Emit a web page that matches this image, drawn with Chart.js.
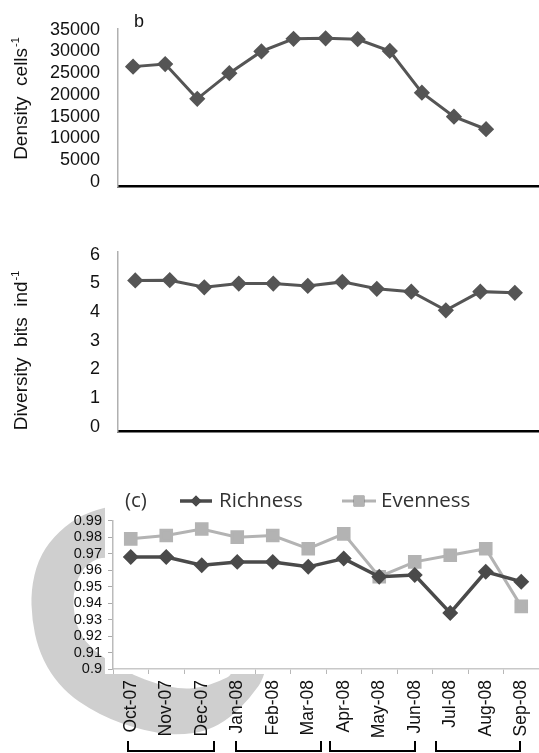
<!DOCTYPE html>
<html>
<head>
<meta charset="utf-8">
<script src="https://cdn.jsdelivr.net/npm/chart.js@4.4.1/dist/chart.umd.min.js"></script>
<style>
    html, body { margin: 0; padding: 0; background: #fff; overflow: hidden; }
    canvas { position: absolute; left: 0; }
    #densityChart { top: 0; }
    #diversityChart { top: 215px; }
    #indexChart { top: 460px; }
</style>
</head>
<body>
<canvas id="densityChart" width="539" height="215"></canvas>
<canvas id="diversityChart" width="539" height="245"></canvas>
<canvas id="indexChart" width="539" height="293"></canvas>

<script>
// ---------- DATA ----------
const months = ['Oct-07', 'Nov-07', 'Dec-07', 'Jan-08', 'Feb-08', 'Mar-08',
                'Apr-08', 'May-08', 'Jun-08', 'Jul-08', 'Aug-08', 'Sep-08'];

const density   = [26500, 27100, 19100, 25000, 30000, 32900, 33000, 32800, 30100, 20500, 15000, 12100];
const diversity = [5.10, 5.11, 4.86, 4.99, 4.99, 4.91, 5.05, 4.81, 4.71, 4.06, 4.71, 4.67];
const richness  = [0.968, 0.968, 0.963, 0.965, 0.965, 0.962, 0.967, 0.956, 0.957, 0.934, 0.959, 0.953];
const evenness  = [0.979, 0.981, 0.985, 0.980, 0.981, 0.973, 0.982, 0.956, 0.965, 0.969, 0.973, 0.938];

const densityTicks   = [0, 5000, 10000, 15000, 20000, 25000, 30000, 35000];
const diversityTicks = [0, 1, 2, 3, 4, 5, 6];
const indexTicks     = [0.9, 0.91, 0.92, 0.93, 0.94, 0.95, 0.96, 0.97, 0.98, 0.99];

// ---------- HELPERS ----------
const FONT = '"Liberation Sans", Arial, sans-serif';

function drawYTitle(ctx, x, y, main, sup) {
    ctx.save();
    ctx.translate(x, y);
    ctx.rotate(-Math.PI / 2);
    ctx.fillStyle = '#111';
    ctx.textAlign = 'left';
    ctx.textBaseline = 'alphabetic';
    ctx.font = '19px ' + FONT;
    const w1 = ctx.measureText(main).width;
    ctx.font = '11px ' + FONT;
    const w2 = ctx.measureText(sup).width;
    const start = -(w1 + w2) / 2;
    ctx.font = '19px ' + FONT;
    ctx.fillText(main, start, 0);
    ctx.font = '11px ' + FONT;
    ctx.fillText(sup, start + w1 + 1, -8);
    ctx.restore();
}

function smoothShape(ctx, pts, dy) {
    const p = pts.map(([x, y]) => [x, y - dy]);
    const mid = (a, b) => [(a[0] + b[0]) / 2, (a[1] + b[1]) / 2];
    let m = mid(p[p.length - 1], p[0]);
    ctx.moveTo(m[0], m[1]);
    p.forEach((pt, i) => {
        const next = p[(i + 1) % p.length];
        m = mid(pt, next);
        ctx.quadraticCurveTo(pt[0], pt[1], m[0], m[1]);
    });
    ctx.closePath();
}

const xy = (values) => values.map((v, i) => ({ x: i, y: v }));
const plain = v => String(Number(v.toFixed(2)));

const baseOptions = {
    responsive: false,
    animation: false,
    events: [],
    plugins: { legend: { display: false }, tooltip: { enabled: false } }
};

// ---------- PANEL b : DENSITY ----------
new Chart(document.getElementById('densityChart'), {
    type: 'line',
    data: {
        datasets: [{
            label: 'Density',
            data: xy(density),
            borderColor: '#555',
            backgroundColor: '#555',
            borderWidth: 3,
            pointStyle: 'rectRot',
            pointRadius: 6,
            tension: 0
        }]
    },
    options: {
        ...baseOptions,
        layout: { autoPadding: false, padding: { top: 20, bottom: 19, left: 0, right: 0 } },
        scales: {
            x: {
                type: 'linear', min: -0.47, max: 12.65,
                grid: { display: false, drawTicks: false },
                ticks: { display: false },
                border: { color: '#000', width: 2.5 },
                afterFit: s => { s.height = 0; }
            },
            y: {
                min: -1000, max: 35200,
                afterBuildTicks: s => { s.ticks = densityTicks.map(v => ({ value: v })); },
                grid: { display: false, drawTicks: false },
                border: { color: '#b0b0b0', width: 1.5 },
                ticks: { autoSkip: false, padding: 18, color: '#111', font: { family: FONT, size: 18 }, callback: plain },
                afterFit: s => { s.width = 118; }
            }
        }
    },
    plugins: [{
        id: 'densityText',
        afterDraw(chart) {
            const ctx = chart.ctx;
            drawYTitle(ctx, 27, 99, 'Density  cells', '-1');
            ctx.save();
            ctx.fillStyle = '#111';
            ctx.font = '18px ' + FONT;
            ctx.textBaseline = 'alphabetic';
            ctx.fillText('b', 134, 27);
            ctx.restore();
        }
    }]
});

// ---------- DIVERSITY ----------
new Chart(document.getElementById('diversityChart'), {
    type: 'line',
    data: {
        datasets: [{
            label: 'Diversity',
            data: xy(diversity),
            borderColor: '#555',
            backgroundColor: '#555',
            borderWidth: 3,
            pointStyle: 'rectRot',
            pointRadius: 6,
            tension: 0
        }]
    },
    options: {
        ...baseOptions,
        layout: { autoPadding: false, padding: { top: 36.8, bottom: 11, left: 0, right: 0 } },
        scales: {
            x: {
                type: 'linear', min: -0.5, max: 11.7,
                grid: { display: false, drawTicks: false },
                ticks: { display: false },
                border: { color: '#000', width: 2.5 },
                afterFit: s => { s.height = 0; }
            },
            y: {
                min: -0.16, max: 6.1,
                afterBuildTicks: s => { s.ticks = diversityTicks.map(v => ({ value: v })); },
                grid: { display: false, drawTicks: false },
                border: { color: '#b0b0b0', width: 1.5 },
                ticks: { autoSkip: false, padding: 18, color: '#111', font: { family: FONT, size: 18 }, callback: plain },
                afterFit: s => { s.width = 118; }
            }
        }
    },
    plugins: [{
        id: 'diversityText',
        afterDraw(chart) {
            drawYTitle(chart.ctx, 27, 136, 'Diversity  bits  ind', '-1');
        }
    }]
});

// ---------- PANEL c : RICHNESS / EVENNESS ----------
const TOP = 460; // page offset of this canvas

new Chart(document.getElementById('indexChart'), {
    type: 'line',
    data: {
        labels: months,
        datasets: [{
            label: 'Richness',
            data: richness,
            borderColor: '#4a4a4a',
            backgroundColor: '#4a4a4a',
            borderWidth: 3.5,
            pointStyle: 'rectRot',
            pointRadius: 5.5,
            tension: 0
        }, {
            label: 'Evenness',
            data: evenness,
            borderColor: '#b3b3b3',
            backgroundColor: '#b3b3b3',
            borderWidth: 3,
            pointStyle: 'rect',
            pointRadius: 7.5,
            tension: 0
        }]
    },
    options: {
        ...baseOptions,
        layout: { autoPadding: false, padding: { top: 60.7, bottom: 0, left: 0, right: 0 } },
        scales: {
            x: {
                offset: true,
                grid: { drawOnChartArea: false, offset: true, tickLength: 5, color: '#b8b8b8' },
                border: { color: '#c8c8c8', width: 1.5 },
                ticks: {
                    autoSkip: false, maxRotation: 90, minRotation: 90, padding: 6,
                    color: '#111', font: { family: FONT, size: 17.5 }
                },
                afterFit: s => { s.height = 84; s.paddingLeft = 0; s.paddingRight = 0; }
            },
            y: {
                min: 0.9, max: 0.99,
                afterBuildTicks: s => { s.ticks = indexTicks.map(v => ({ value: v })); },
                grid: { drawOnChartArea: false, tickLength: 5, color: '#aaa' },
                border: { color: '#bbb', width: 1.5 },
                ticks: {
                    autoSkip: false, padding: 6, color: '#111',
                    font: { family: FONT, size: 14.5 }, callback: plain
                },
                afterFit: s => { s.width = 113; }
            }
        }
    },
    plugins: [{
        id: 'panelDecor',
        beforeDraw(chart) {
            const ctx = chart.ctx;
            // grey crescent from the scanned page
            const outer = [[150, 498], [105, 507], [77, 517], [53, 537], [38, 560], [31, 590], [32, 620],
                           [38, 648], [50, 673], [68, 694], [90, 709], [110, 719], [132, 727], [157, 733],
                           [180, 735], [207, 731], [230, 718], [250, 698], [267, 674], [276, 600], [240, 530]];
            const inner = [[105, 556], [88, 563], [78, 577], [73, 595], [74, 615], [80, 634], [92, 649],
                           [110, 662], [133, 675], [157, 684], [180, 689], [200, 688], [220, 681],
                           [234, 674], [236, 640], [200, 590], [150, 562]];
            ctx.save();
            ctx.beginPath();
            smoothShape(ctx, outer, TOP);
            smoothShape(ctx, inner, TOP);
            ctx.fillStyle = '#cfcfcf';
            ctx.fill('evenodd');
            ctx.fillStyle = '#fff';
            ctx.fillRect(105, 470 - TOP, 434, 674 - 470);
            ctx.restore();
        },
        afterDraw(chart) {
            const ctx = chart.ctx;
            const y = 501 - TOP;
            ctx.save();
            ctx.font = '20.5px "Open Sans", sans-serif';
            ctx.fillStyle = '#333';
            ctx.textBaseline = 'middle';
            ctx.fillText('(c)', 125, y);

            const items = [
                { ds: chart.data.datasets[0], x0: 180, x1: 212, tx: 219 },
                { ds: chart.data.datasets[1], x0: 342, x1: 376, tx: 381 }
            ];
            items.forEach(it => {
                ctx.strokeStyle = it.ds.borderColor;
                ctx.lineWidth = it.ds.borderWidth;
                ctx.beginPath();
                ctx.moveTo(it.x0, y);
                ctx.lineTo(it.x1, y);
                ctx.stroke();
                Chart.helpers.drawPoint(ctx, {
                    pointStyle: it.ds.pointStyle, radius: it.ds.pointRadius, borderWidth: 0, rotation: 0
                }, (it.x0 + it.x1) / 2, y);
                ctx.fillStyle = it.ds.backgroundColor;
                ctx.fill();
                ctx.fillStyle = '#333';
                ctx.fillText(it.ds.label, it.tx, y);
            });

            // season brackets under the month labels
            const brackets = [[128, 214], [236, 321], [330, 415], [436, 520]];
            ctx.strokeStyle = '#000';
            ctx.lineWidth = 2;
            brackets.forEach(([a, b]) => {
                ctx.beginPath();
                ctx.moveTo(a, 741 - TOP);
                ctx.lineTo(a, 751 - TOP);
                ctx.lineTo(b, 751 - TOP);
                ctx.lineTo(b, 741 - TOP);
                ctx.stroke();
            });
            ctx.restore();
        }
    }]
});
</script>
</body>
</html>
